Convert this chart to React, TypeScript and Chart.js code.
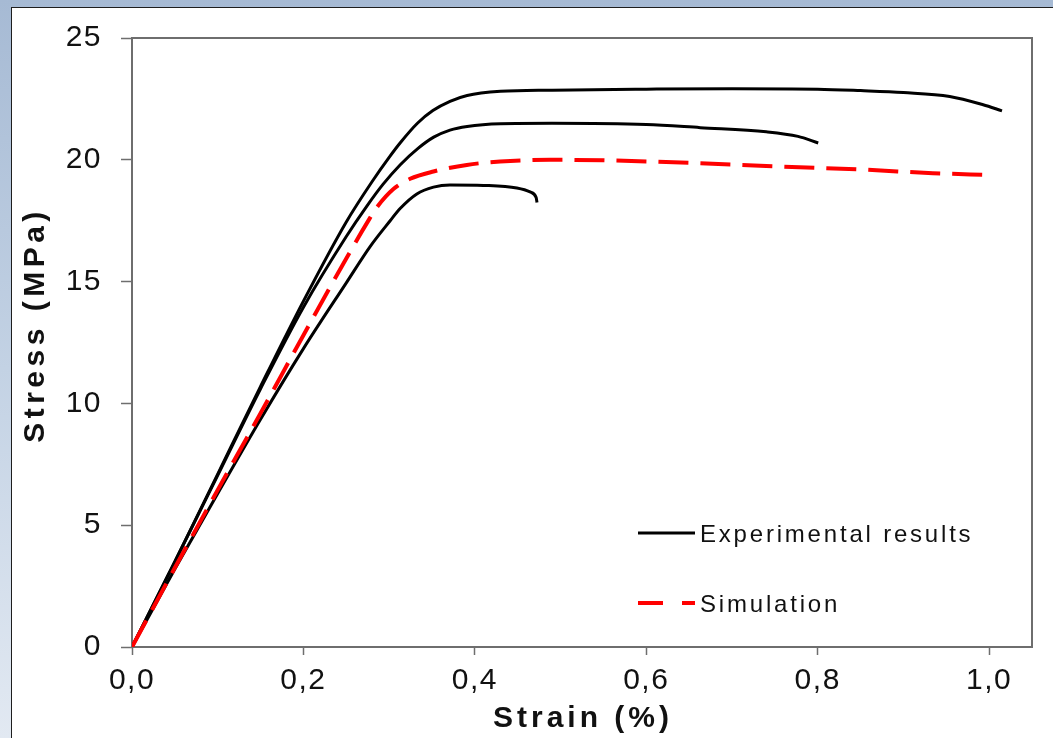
import React, { useEffect, useRef } from 'react';
import { Chart, registerables } from 'chart.js';

Chart.register(...registerables);

// ---------- data ----------
const strainA = [0, 0.05, 0.1, 0.15, 0.2, 0.25, 0.28, 0.3, 0.313, 0.333, 0.351, 0.371, 0.391, 0.43, 0.49, 0.6, 0.7, 0.8, 0.85, 0.9, 0.954, 0.993, 1.015];
const stressA = [0, 3.5, 7.1, 10.7, 14.2, 17.45, 19.1, 20.1, 20.7, 21.5, 22.02, 22.4, 22.64, 22.81, 22.86, 22.9, 22.92, 22.9, 22.84, 22.76, 22.6, 22.26, 22.01];

const strainB = [0, 0.05, 0.1, 0.15, 0.2, 0.25, 0.274, 0.293, 0.313, 0.333, 0.352, 0.371, 0.391, 0.43, 0.49, 0.6, 0.663, 0.74, 0.777, 0.8006];
const stressB = [0, 3.5, 7.05, 10.6, 13.95, 16.85, 18.1, 19.0, 19.8, 20.45, 20.93, 21.22, 21.37, 21.48, 21.5, 21.45, 21.32, 21.15, 20.96, 20.69];

const strainD = [0, 0.05, 0.1, 0.15, 0.2, 0.25, 0.278, 0.3012, 0.3128, 0.3323, 0.3517, 0.371, 0.41, 0.449, 0.4644, 0.4715, 0.4725];
const stressD = [0, 3.2, 6.3, 9.35, 12.25, 14.95, 16.45, 17.5, 18.0, 18.6, 18.88, 18.97, 18.95, 18.84, 18.68, 18.45, 18.25];

const strainSim = [0, 0.05, 0.1, 0.15, 0.2, 0.25, 0.274, 0.2857, 0.305, 0.3245, 0.3517, 0.3906, 0.4295, 0.4878, 0.55, 0.6628, 0.7597, 0.857, 0.9344, 1.0];
const stressSim = [0, 3.25, 6.45, 9.6, 12.8, 15.95, 17.4, 18.05, 18.8, 19.22, 19.52, 19.79, 19.93, 20.0, 19.98, 19.86, 19.72, 19.59, 19.45, 19.38];

const X_MIN = 0;
const X_MAX = 1.05;
const X_STEP = 0.2;
const Y_MIN = 0;
const Y_MAX = 25;
const Y_STEP = 5;

const X_TITLE = 'Strain (%)';
const Y_TITLE = 'Stress (MPa)';
const LABEL_EXP = 'Experimental results';
const LABEL_SIM = 'Simulation';

const FONT = '"Liberation Sans", Arial, sans-serif';

function pts(xs: number[], ys: number[]) {
  return xs.map((x, i) => ({ x, y: ys[i] }));
}

const decorPlugin = {
  id: 'decor',
  beforeDraw(chart: any) {
    (chart.ctx as any).letterSpacing = '1.5px';
  },
  beforeDatasetsDraw(chart: any) {
    const { ctx, chartArea: a } = chart;
    ctx.save();
    ctx.strokeStyle = '#6e6e6e';
    ctx.lineWidth = 2;
    ctx.strokeRect(a.left, a.top, a.right - a.left, a.bottom - a.top);
    ctx.restore();
  },
  afterDraw(chart: any) {
    const { ctx, chartArea: a } = chart;
    // axis titles
    ctx.save();
    ctx.fillStyle = '#111';
    ctx.font = `bold 30px ${FONT}`;
    ctx.textAlign = 'center';
    ctx.textBaseline = 'middle';
    (ctx as any).letterSpacing = '4px';
    ctx.fillText(X_TITLE, (a.left + a.right) / 2 + 1, 719);
    ctx.translate(36, 325);
    ctx.rotate(-Math.PI / 2);
    (ctx as any).letterSpacing = '4.5px';
    ctx.fillText(Y_TITLE, 0, 0);
    ctx.restore();

    // legend
    ctx.save();
    ctx.lineCap = 'butt';
    ctx.strokeStyle = '#000';
    ctx.lineWidth = 3;
    ctx.setLineDash([]);
    ctx.beginPath();
    ctx.moveTo(638, 533);
    ctx.lineTo(695, 533);
    ctx.stroke();
    ctx.strokeStyle = '#ff0000';
    ctx.lineWidth = 4;
    ctx.setLineDash([25, 19]);
    ctx.beginPath();
    ctx.moveTo(638, 603);
    ctx.lineTo(695, 603);
    ctx.stroke();
    ctx.setLineDash([]);
    ctx.fillStyle = '#111';
    ctx.font = `24px ${FONT}`;
    ctx.textAlign = 'left';
    ctx.textBaseline = 'alphabetic';
    (ctx as any).letterSpacing = '2.8px';
    ctx.fillText(LABEL_EXP, 700, 542);
    ctx.fillText(LABEL_SIM, 700, 612);
    ctx.restore();
  },
};

export default function App() {
  const ref = useRef<HTMLCanvasElement | null>(null);

  useEffect(() => {
    if (!ref.current) return;
    const common = { pointRadius: 0, cubicInterpolationMode: 'monotone', fill: false };
    const chart = new Chart(ref.current, {
      type: 'line',
      data: {
        datasets: [
          {
            ...common,
            label: LABEL_SIM,
            data: pts(strainSim, stressSim),
            borderColor: '#ff0000',
            borderWidth: 4,
            borderDash: [30, 12],
          },
          { ...common, label: LABEL_EXP, data: pts(strainA, stressA), borderColor: '#000', borderWidth: 3 },
          { ...common, label: LABEL_EXP, data: pts(strainB, stressB), borderColor: '#000', borderWidth: 3 },
          { ...common, label: LABEL_EXP, data: pts(strainD, stressD), borderColor: '#000', borderWidth: 3 },
        ],
      },
      options: {
        animation: false,
        responsive: false,
        layout: { padding: { left: 0, top: 38, right: 21, bottom: 0 } },
        plugins: { legend: { display: false }, tooltip: { enabled: false }, title: { display: false } },
        scales: {
          x: {
            type: 'linear',
            min: X_MIN,
            max: X_MAX,
            afterFit: (s: any) => { s.height = 91; },
            border: { display: false },
            grid: { display: true, drawOnChartArea: false, drawTicks: true, tickLength: 8, color: '#6e6e6e', tickWidth: 1.5 },
            ticks: {
              stepSize: X_STEP,
              includeBounds: false,
              padding: 8,
              color: '#111',
              font: { family: FONT, size: 30 },
              maxRotation: 0,
              callback: (v: any) => Number(v).toFixed(1).replace('.', ','),
            },
          },
          y: {
            type: 'linear',
            min: Y_MIN,
            max: Y_MAX,
            afterFit: (s: any) => { s.width = 132; },
            border: { display: false },
            grid: { display: true, drawOnChartArea: false, drawTicks: true, tickLength: 11, color: '#6e6e6e', tickWidth: 1.5 },
            ticks: {
              stepSize: Y_STEP,
              padding: 19,
              color: '#111',
              font: { family: FONT, size: 30 },
              callback: (v: any) => String(v),
            },
          },
        },
      },
      plugins: [decorPlugin],
    } as any);
    return () => chart.destroy();
  }, []);

  return (
    <div
      style={{
        position: 'fixed',
        left: 0,
        top: 0,
        width: 1053,
        height: 738,
        overflow: 'hidden',
        background: 'linear-gradient(180deg, #a6bad4 0%, #c3d2e4 50%, #e2e9f2 100%)',
      }}
    >
      <div
        style={{
          position: 'absolute',
          left: 11,
          top: 7,
          right: 0,
          bottom: 0,
          background: '#fff',
          borderLeft: '1px solid #1e1e1e',
          borderTop: '1px solid #1e1e1e',
        }}
      />
      <canvas ref={ref} width={1053} height={738} style={{ position: 'absolute', left: 0, top: 0 }} />
    </div>
  );
}
